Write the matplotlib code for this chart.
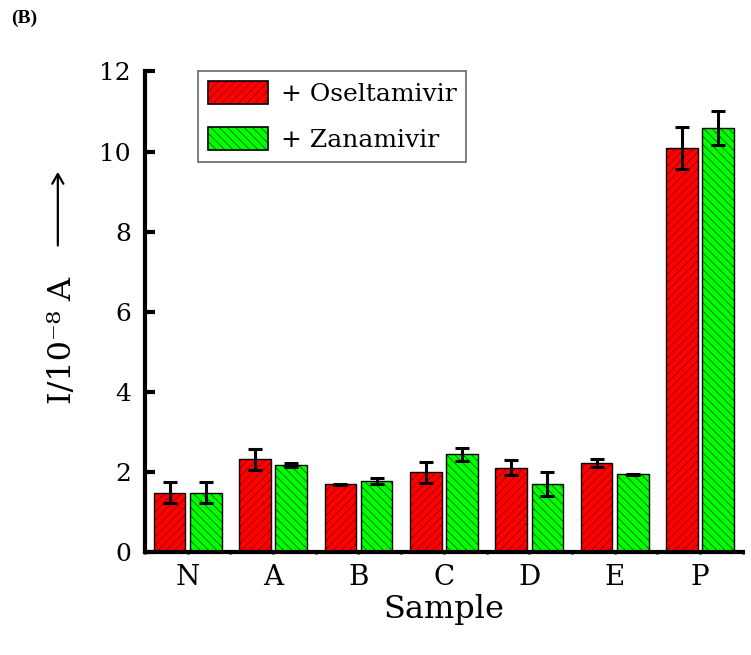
import numpy as np
import matplotlib
matplotlib.use('Agg')
import matplotlib.pyplot as plt
from matplotlib.patches import Patch, FancyArrowPatch

plt.rcParams['font.family'] = ['DejaVu Serif']
plt.rcParams['hatch.linewidth'] = 0.7

# data
samples = ['N', 'A', 'B', 'C', 'D', 'E', 'P']
oselt = [1.48, 2.32, 1.69, 1.99, 2.11, 2.23, 10.09]
oselt_err = [0.26, 0.26, 0.02, 0.26, 0.18, 0.10, 0.52]
zana = [1.48, 2.17, 1.78, 2.44, 1.71, 1.94, 10.59]
zana_err = [0.26, 0.055, 0.08, 0.155, 0.30, 0.02, 0.415]

red = '#ff0000'
green = '#00ff00'
red_h = '#a00000'
green_h = '#007a00'

fig = plt.figure(figsize=(7.51, 6.55), dpi=100)
ax = fig.add_axes([0.193, 0.157, 0.796, 0.734])

x = np.arange(1, len(samples) + 1)
w = 0.37
off = 0.212

# hatched fill, then black outline on top
ax.bar(x - off, oselt, w, color=red, edgecolor=red_h, hatch='////', linewidth=0, zorder=2)
ax.bar(x + off, zana, w, color=green, edgecolor=green_h, hatch='\\\\\\\\', linewidth=0, zorder=2)
ax.bar(x - off, oselt, w, fill=False, edgecolor='black', linewidth=1.0, zorder=3)
ax.bar(x + off, zana, w, fill=False, edgecolor='black', linewidth=1.0, zorder=3)

ax.errorbar(x - off, oselt, yerr=oselt_err, fmt='none', ecolor='black',
            elinewidth=2.2, capsize=5.3, capthick=2.2, zorder=4)
ax.errorbar(x + off, zana, yerr=zana_err, fmt='none', ecolor='black',
            elinewidth=2.2, capsize=5.3, capthick=2.2, zorder=4)

ax.set_xlim(0.5, 7.5)
ax.set_ylim(0, 12)
ax.set_yticks(np.arange(0, 13, 2))
ax.set_xticks(x)
ax.set_xticklabels(samples)
ax.set_xticks(np.arange(0.5, 8, 1), minor=True)

for s in ['top', 'right']:
    ax.spines[s].set_visible(False)
for s in ['left', 'bottom']:
    ax.spines[s].set_linewidth(3)

ax.tick_params(axis='y', direction='in', length=7, width=3, labelsize=18, pad=10)
ax.tick_params(axis='x', which='both', direction='inout', length=3, width=2, labelsize=20, pad=7)

ax.set_xlabel('Sample', fontsize=23, labelpad=2)

fig.text(0.083, 0.481, 'I/10\u207b\u2078 A', rotation=90, fontsize=23,
         ha='center', va='center')
fig.add_artist(FancyArrowPatch(
    (0.077, 0.621), (0.077, 0.742), transform=fig.transFigure,
    arrowstyle='->,head_length=7,head_width=4', color='black', linewidth=1.6))

fig.text(0.015, 0.985, '(B)', fontsize=14, fontweight='bold',
         family='Liberation Serif', va='top')

h1 = (Patch(facecolor=red, edgecolor=red_h, hatch='////', linewidth=0),
      Patch(fill=False, edgecolor='black', linewidth=1.2))
h2 = (Patch(facecolor=green, edgecolor=green_h, hatch='\\\\\\\\', linewidth=0),
      Patch(fill=False, edgecolor='black', linewidth=1.2))
leg = ax.legend([h1, h2], ['+ Oseltamivir', '+ Zanamivir'], loc='upper left',
                bbox_to_anchor=(0.089, 1.0), borderaxespad=0, fontsize=18,
                fancybox=False, handlelength=2.4, handleheight=1.0,
                borderpad=0.4, labelspacing=0.85, handletextpad=0.5,
                edgecolor='#666666', framealpha=1)
leg.get_frame().set_linewidth(1.2)

fig.savefig('out.png', dpi=100)
